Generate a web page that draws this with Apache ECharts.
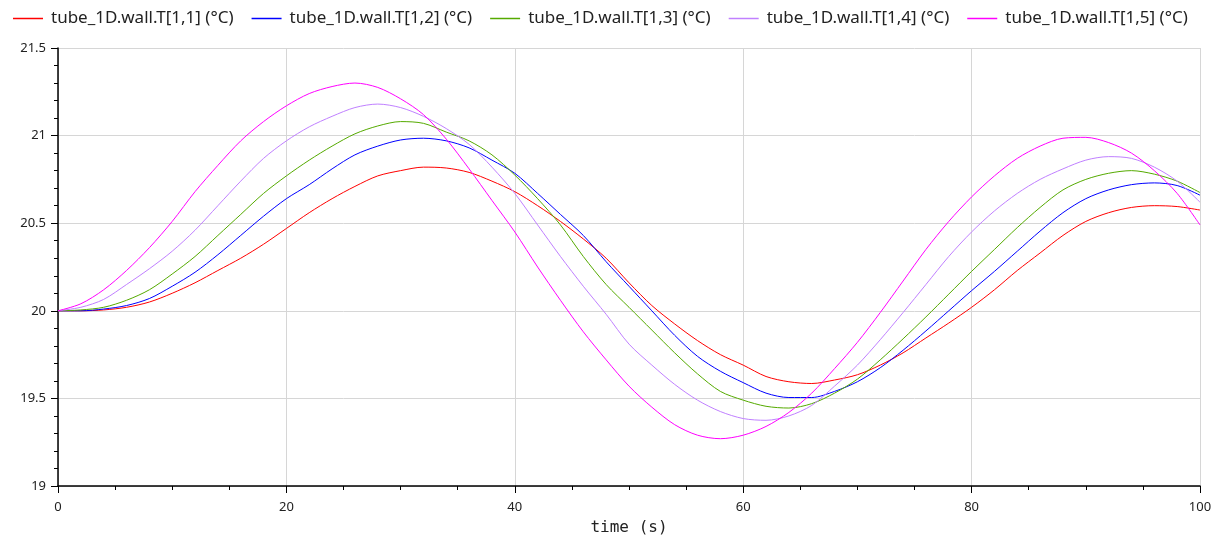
<!DOCTYPE html>
<html>
<head>
<meta charset="utf-8">
<script src="https://cdn.jsdelivr.net/npm/echarts@6/dist/echarts.min.js"></script>
<style>html,body{margin:0;padding:0;background:#fff}#c{width:1224px;height:541px}</style>
</head>
<body>
<div id="c"></div>
<script>
const times = [0,2,4,6,8,10,12,14,16,18,20,22,24,26,28,30,32,34,36,38,40,42,44,46,48,50,52,54,56,58,60,62,64,66,68,70,72,74,76,78,80,82,84,86,88,90,92,94,96,98,100];
const seriesNames = ["tube_1D.wall.T[1,1] (°C)","tube_1D.wall.T[1,2] (°C)","tube_1D.wall.T[1,3] (°C)","tube_1D.wall.T[1,4] (°C)","tube_1D.wall.T[1,5] (°C)"];
const T11 = [20.00,20.00,20.005,20.02,20.05,20.10,20.16,20.23,20.30,20.38,20.47,20.56,20.64,20.71,20.77,20.80,20.82,20.815,20.79,20.74,20.68,20.60,20.51,20.41,20.30,20.16,20.03,19.925,19.83,19.75,19.69,19.625,19.595,19.585,19.605,19.635,19.69,19.76,19.845,19.93,20.02,20.12,20.23,20.33,20.43,20.51,20.56,20.59,20.60,20.595,20.575];
const T12 = [20.00,20.00,20.01,20.03,20.07,20.14,20.22,20.32,20.43,20.54,20.64,20.72,20.81,20.89,20.94,20.975,20.985,20.97,20.93,20.86,20.785,20.67,20.55,20.43,20.28,20.14,20.00,19.86,19.74,19.655,19.59,19.53,19.505,19.505,19.54,19.595,19.675,19.775,19.885,20.00,20.115,20.225,20.34,20.455,20.56,20.64,20.69,20.72,20.73,20.715,20.66];
const T13 = [20.00,20.005,20.02,20.06,20.12,20.21,20.31,20.43,20.55,20.67,20.77,20.86,20.94,21.01,21.055,21.08,21.07,21.02,20.97,20.89,20.775,20.64,20.49,20.31,20.15,20.02,19.89,19.76,19.64,19.54,19.49,19.455,19.445,19.47,19.53,19.61,19.72,19.84,19.965,20.095,20.225,20.35,20.475,20.59,20.69,20.75,20.785,20.80,20.78,20.74,20.675];
const T14 = [20.00,20.02,20.065,20.15,20.24,20.34,20.46,20.60,20.74,20.87,20.97,21.05,21.11,21.16,21.18,21.16,21.11,21.04,20.95,20.82,20.67,20.49,20.31,20.14,19.98,19.81,19.69,19.58,19.49,19.425,19.385,19.375,19.40,19.46,19.57,19.69,19.835,19.99,20.15,20.31,20.45,20.57,20.67,20.75,20.81,20.86,20.88,20.87,20.82,20.74,20.62];
const T15 = [20.00,20.04,20.12,20.23,20.36,20.51,20.68,20.83,20.97,21.08,21.17,21.24,21.28,21.30,21.275,21.21,21.12,20.98,20.81,20.63,20.45,20.25,20.06,19.88,19.72,19.57,19.45,19.35,19.29,19.27,19.29,19.34,19.42,19.53,19.67,19.82,19.99,20.17,20.35,20.51,20.65,20.77,20.87,20.94,20.985,20.99,20.96,20.90,20.80,20.67,20.49];
const colors = ["#ff0000","#0000ff","#55aa00","#c080ff","#ff00ff"];
const xTicks = [0,20,40,60,80,100];
const yTicks = [19,19.5,20,20.5,21,21.5];

const allVals = [T11,T12,T13,T14,T15];
const chart = echarts.init(document.getElementById('c'), null, {renderer:'canvas'});
const labelFont = {color:'#222', fontSize:13, fontFamily:'Noto Sans'};
chart.setOption({
  animation:false,
  backgroundColor:'#fff',
  color:colors,
  legend:{
    top:5, left:8, itemGap:18, itemWidth:30, itemHeight:1.5, icon:'rect',
    textStyle:{color:'#222', fontSize:17, fontFamily:'Noto Sans', padding:[0,0,0,3]},
    data:seriesNames
  },
  grid:{left:58, right:24, top:48, bottom:55, containLabel:false},
  xAxis:{
    type:'value', min:xTicks[0], max:xTicks[xTicks.length-1], interval:20,
    name:'time (s)', nameLocation:'middle', nameGap:34,
    nameTextStyle:{color:'#222', fontSize:16, fontFamily:'DejaVu Sans Mono'},
    axisLine:{show:true, onZero:false, lineStyle:{color:'#000', width:1.5}},
    axisTick:{show:true, length:7, lineStyle:{color:'#000'}},
    minorTick:{show:true, splitNumber:4, length:4, lineStyle:{color:'#000'}},
    axisLabel:Object.assign({margin:15}, labelFont),
    splitLine:{show:true, lineStyle:{color:'#d6d6d6', width:1}}
  },
  yAxis:{
    type:'value', min:yTicks[0], max:yTicks[yTicks.length-1], interval:0.5,
    axisLine:{show:true, onZero:false, lineStyle:{color:'#000', width:1.5}},
    axisTick:{show:true, length:7, lineStyle:{color:'#000'}},
    minorTick:{show:true, splitNumber:5, length:4, lineStyle:{color:'#000'}},
    axisLabel:Object.assign({margin:12}, labelFont),
    splitLine:{show:true, lineStyle:{color:'#d6d6d6', width:1}}
  },
  series: seriesNames.map((n,i)=>({
    name:n, type:'line', showSymbol:false, smooth:0.3,
    lineStyle:{width:1, color:colors[i]},
    itemStyle:{color:colors[i]},
    data: times.map((t,k)=>[t, allVals[i][k]])
  }))
});
</script>
</body>
</html>
